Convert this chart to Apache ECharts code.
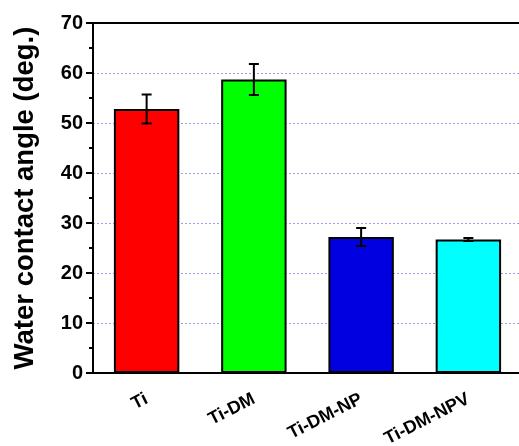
<!DOCTYPE html>
<html>
<head>
<meta charset="utf-8">
<script src="https://cdn.jsdelivr.net/npm/echarts@6/dist/echarts.min.js"></script>
<style>
html,body{margin:0;padding:0;background:#fff;overflow:hidden;}
#chart{width:519px;height:446px;}
</style>
</head>
<body>
<div id="chart"></div>
<script>
var categories = ['Ti', 'Ti-DM', 'Ti-DM-NP', 'Ti-DM-NPV'];
var values = [52.8, 58.7, 27.2, 26.7];
var errors = [2.9, 3.1, 1.8, 0.3];
var colors = ['#ff0000', '#00ff00', '#0000e0', '#00ffff'];
var yTicks = [0, 10, 20, 30, 40, 50, 60, 70];

var chart = echarts.init(document.getElementById('chart'), null, {renderer: 'canvas'});
var font = '"Liberation Sans", Arial, sans-serif';

var errData = categories.map(function (c, i) {
  return [i, values[i] - errors[i], values[i] + errors[i]];
});

chart.setOption({
  animation: false,
  backgroundColor: '#ffffff',
  grid: {left: 93, top: 23, right: -3, bottom: 73, containLabel: false, outerBoundsMode: 'none'},
  xAxis: [{
    type: 'category',
    data: categories,
    position: 'bottom',
    axisLine: {show: true, lineStyle: {color: '#000', width: 2}},
    axisTick: {show: false},
    axisLabel: {
      rotate: 27, margin: 25, color: '#000', fontWeight: 'bold',
      fontFamily: font, fontSize: 18
    },
    splitLine: {show: false}
  }, {
    type: 'category',
    data: categories,
    position: 'top',
    axisLine: {show: true, lineStyle: {color: '#000', width: 2}},
    axisTick: {show: false},
    axisLabel: {show: false}
  }],
  yAxis: {
    type: 'value',
    min: yTicks[0],
    max: yTicks[yTicks.length - 1],
    interval: 10,
    name: 'Water contact angle (deg.)',
    nameLocation: 'middle',
    nameGap: 54,
    nameTextStyle: {color: '#000', fontWeight: 'bold', fontFamily: font, fontSize: 27.5},
    axisLine: {show: true, lineStyle: {color: '#000', width: 2}},
    axisTick: {show: true, inside: false, length: 7, lineStyle: {color: '#000', width: 2}},
    minorTick: {show: true, splitNumber: 2, length: 4, lineStyle: {color: '#000', width: 2}},
    axisLabel: {color: '#000', fontWeight: 'bold', fontFamily: font, fontSize: 20, margin: 10},
    splitLine: {show: true, lineStyle: {color: '#9c9cf0', type: [2, 2], width: 1}}
  },
  series: [{
    type: 'bar',
    data: values.map(function (v, i) {
      return {value: v, itemStyle: {color: colors[i]}};
    }),
    barWidth: '61%',
    itemStyle: {borderColor: '#000', borderWidth: 2},
    z: 2
  }, {
    type: 'custom',
    data: errData,
    z: 5,
    renderItem: function (params, api) {
      var x = api.value(0);
      var lo = api.coord([x, api.value(1)]);
      var hi = api.coord([x, api.value(2)]);
      var cap = 5;
      var st = {stroke: '#000', lineWidth: 2};
      return {
        type: 'group',
        children: [
          {type: 'line', shape: {x1: lo[0], y1: lo[1], x2: hi[0], y2: hi[1]}, style: st},
          {type: 'line', shape: {x1: lo[0] - cap, y1: lo[1], x2: lo[0] + cap, y2: lo[1]}, style: st},
          {type: 'line', shape: {x1: hi[0] - cap, y1: hi[1], x2: hi[0] + cap, y2: hi[1]}, style: st}
        ]
      };
    }
  }]
});
</script>
</body>
</html>
